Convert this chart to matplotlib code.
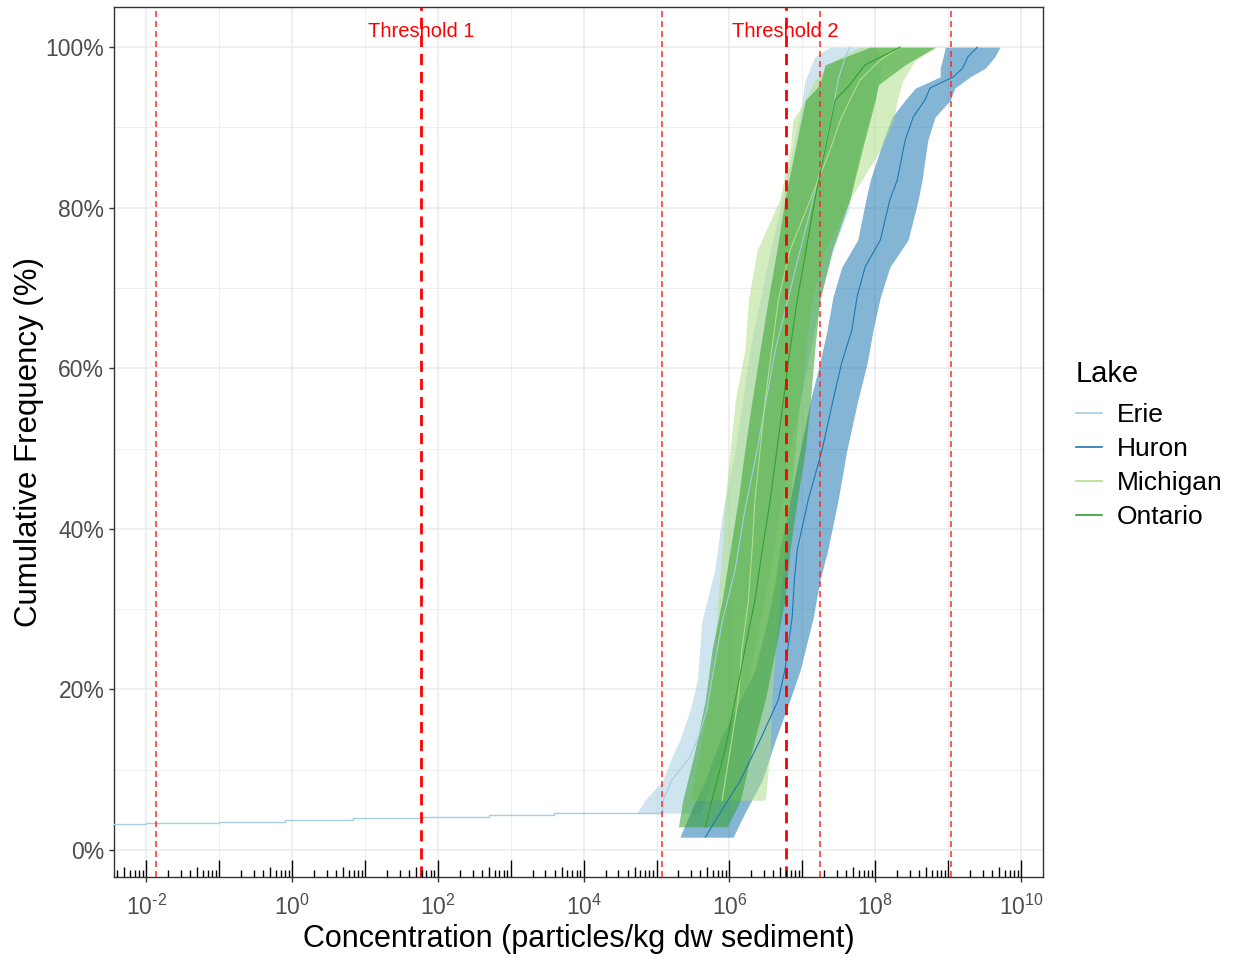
import numpy as np
import matplotlib
matplotlib.use("Agg")
import matplotlib.pyplot as plt
from matplotlib.transforms import blended_transform_factory
from matplotlib.lines import Line2D

plt.rcParams["font.family"] = ["Liberation Sans", "DejaVu Sans"]
plt.rcParams["mathtext.fontset"] = "custom"
plt.rcParams["mathtext.rm"] = "Liberation Sans"
plt.rcParams["mathtext.it"] = "Liberation Sans"
plt.rcParams["lines.scale_dashes"] = False

#####################
### Data (log10 concentration, cumulative %)
#####################
lakes = ["Erie", "Huron", "Michigan", "Ontario"]
colors = {"Erie": "#A6CEE3", "Huron": "#1F78B4", "Michigan": "#B2DF8A", "Ontario": "#33A02C"}

erie_pct = [4.6, 6.2, 8.7, 11.6, 13.7, 17.4, 21.2, 28.4, 35.0, 42.3, 49.8, 62.3, 68.5, 74.7, 79.7, 85.6, 91.8, 95.9, 98.8, 100]
erie_lo = [4.73, 4.84, 5.09, 5.21, 5.32, 5.46, 5.56, 5.62, 5.80, 5.91, 6.08, 6.28, 6.42, 6.56, 6.69, 6.83, 6.97, 7.04, 7.17, 7.38]
erie_mid = [5.08, 5.09, 5.21, 5.46, 5.56, 5.69, 5.76, 5.90, 6.08, 6.21, 6.38, 6.63, 6.80, 6.97, 7.11, 7.27, 7.41, 7.49, 7.59, 7.65]
erie_hi = [5.60, 5.67, 5.76, 5.90, 6.01, 6.15, 6.26, 6.42, 6.56, 6.69, 6.83, 7.11, 7.24, 7.42, 7.63, 7.75, 7.93, 8.07, 8.07, 8.00]
# low tail of Erie (single very low sample)
erie_tail_x = [-2.6, -2.0, -1.0, -0.1, 0.84, 1.8, 2.7, 3.6, 5.08]
erie_tail_pct = [3.2, 3.4, 3.55, 3.75, 3.95, 4.15, 4.35, 4.6, 4.6]

huron_pct = [1.6, 4.6, 8.7, 13.7, 18.7, 22.4, 29.0, 33.6, 37.4, 43.6, 49.8, 56.0, 60.7, 64.8, 68.9, 72.6, 76.0, 81.0, 83.4, 88.4, 91.3, 93.4, 94.9, 96.3, 97.4, 98.8, 100]
huron_lo = [5.32, 5.46, 5.67, 5.87, 6.15, 6.35, 6.53, 6.63, 6.69, 6.83, 6.97, 7.11, 7.24, 7.34, 7.42, 7.54, 7.76, 7.87, 7.93, 8.11, 8.23, 8.41, 8.55, 8.89, 8.89, 8.93, 8.96]
huron_mid = [5.67, 5.87, 6.15, 6.42, 6.67, 6.76, 6.86, 6.89, 6.93, 7.08, 7.27, 7.42, 7.54, 7.68, 7.75, 7.86, 8.07, 8.20, 8.30, 8.41, 8.52, 8.68, 8.75, 9.07, 9.20, 9.27, 9.40]
huron_hi = [6.05, 6.21, 6.45, 6.63, 6.83, 6.97, 7.15, 7.24, 7.35, 7.49, 7.61, 7.76, 7.89, 7.97, 8.07, 8.20, 8.45, 8.59, 8.64, 8.72, 8.82, 9.03, 9.09, 9.30, 9.51, 9.64, 9.71]

michigan_pct = [6.2, 12.5, 18.7, 24.9, 31.1, 37.4, 43.6, 49.8, 56.0, 62.3, 68.5, 74.7, 81.0, 87.2, 90.9, 93.4, 95.9, 98.4, 100]
michigan_lo = [5.46, 5.60, 5.71, 5.80, 5.84, 5.90, 5.94, 6.01, 6.08, 6.21, 6.26, 6.38, 6.69, 6.83, 6.87, 7.04, 7.17, 7.45, 7.79]
michigan_mid = [5.90, 6.01, 6.12, 6.17, 6.26, 6.31, 6.35, 6.42, 6.49, 6.58, 6.67, 6.83, 7.11, 7.38, 7.52, 7.65, 7.79, 8.07, 8.34]
michigan_hi = [6.49, 6.56, 6.58, 6.63, 6.69, 6.76, 6.83, 6.90, 6.97, 7.04, 7.13, 7.31, 7.65, 8.07, 8.25, 8.30, 8.38, 8.55, 8.85]

ontario_pct = [2.9, 6.2, 12.5, 18.7, 24.9, 31.1, 37.4, 43.6, 49.8, 56.0, 62.3, 68.5, 74.7, 81.0, 87.2, 93.4, 95.3, 97.8, 100]
ontario_lo = [5.30, 5.36, 5.53, 5.67, 5.76, 5.90, 6.01, 6.12, 6.21, 6.31, 6.42, 6.53, 6.65, 6.76, 6.90, 7.04, 7.24, 7.31, 7.93]
ontario_mid = [5.67, 5.76, 5.94, 6.08, 6.21, 6.35, 6.45, 6.56, 6.65, 6.74, 6.83, 6.93, 7.05, 7.17, 7.31, 7.45, 7.65, 7.86, 8.34]
ontario_hi = [5.97, 6.15, 6.31, 6.49, 6.63, 6.76, 6.83, 6.93, 7.04, 7.11, 7.17, 7.24, 7.41, 7.65, 7.82, 8.00, 8.04, 8.41, 8.82]

threshold_main = [59, 5.9e6]
threshold_main_labels = ["Threshold 1", "Threshold 2"]
threshold_bounds = [0.0135, 1.2e5, 1.75e7, 1.1e9]

series = {
    "Erie": (erie_pct, erie_lo, erie_mid, erie_hi),
    "Huron": (huron_pct, huron_lo, huron_mid, huron_hi),
    "Michigan": (michigan_pct, michigan_lo, michigan_mid, michigan_hi),
    "Ontario": (ontario_pct, ontario_lo, ontario_mid, ontario_hi),
}

#####################
### Plot
#####################
fig = plt.figure(figsize=(12.38, 9.57), dpi=100)
ax = fig.add_axes([114/1238, 1-877/957, (1043-114)/1238, (877-7)/957])

ax.set_xscale("log")
ax.set_xlim(10**-2.44, 10**10.30)
ax.set_ylim(-3.36, 105.0)

# grid
for e in range(-2, 11):
    ax.axvline(10.0**e, color="#EBEBEB", lw=1.1 if e % 2 == 0 else 0.6, zorder=0)
for p in range(0, 101, 10):
    ax.axhline(p, color="#EBEBEB", lw=1.1 if p % 20 == 0 else 0.6, zorder=0)

for lake in lakes:
    pct, lo, mid, hi = series[lake]
    pct = np.array(pct)
    ax.fill_betweenx(pct, 10**np.array(lo), 10**np.array(hi), color=colors[lake],
                     alpha=0.55, lw=0, zorder=2)
    ax.plot(10**np.array(mid), pct, color=colors[lake], lw=0.8, zorder=3)
ax.plot(10**np.array(erie_tail_x), erie_tail_pct, color=colors["Erie"], lw=1.0,
        drawstyle="steps-post", zorder=3)

# threshold lines
for v in threshold_bounds:
    ax.axvline(v, color="#FF2A2A", lw=1.1, dashes=(4.3, 2.9), zorder=4)
for v, lab in zip(threshold_main, threshold_main_labels):
    ax.axvline(v, color="red", lw=2.0, dashes=(8, 5), zorder=4)
    ax.text(v, 102.0, lab, color="red", fontsize=14.5, ha="center", va="center", zorder=5)

# log ticks along the bottom inside the panel
trans = blended_transform_factory(ax.transData, ax.transAxes)
for e in range(-3, 11):
    for m in range(1, 10):
        v = m * 10.0**e
        if v < 10**-2.44 or v > 10**10.3:
            continue
        h = 16.7 if m == 1 else (10.3 if m == 5 else 6.7)
        ax.plot([v, v], [0, h/870], color="black", lw=1.0, transform=trans, zorder=6,
                solid_capstyle="butt")

# axes styling
xt = list(range(-2, 11, 2))
ax.set_xticks([10.0**e for e in xt])
ax.set_xticklabels(["$10^{" + str(e).replace("-", "\u2010") + "}$" for e in xt])
ax.minorticks_off()
ax.set_yticks(range(0, 101, 20))
ax.set_yticklabels(["%d%%" % p for p in range(0, 101, 20)])
ax.tick_params(axis="both", labelsize=16.5, labelcolor="#4D4D4D", color="#333333",
               length=3.5, width=1.0)
ax.tick_params(axis="x", pad=9)
for s in ax.spines.values():
    s.set_color("#333333")
    s.set_linewidth(1.0)
ax.set_xlabel("Concentration (particles/kg dw sediment)", fontsize=22, labelpad=3)
ax.set_ylabel("Cumulative Frequency (%)", fontsize=22.5, labelpad=1)

handles = [Line2D([0], [0], color=colors[l], lw=1.2) for l in lakes]
leg = fig.legend(handles, lakes, title="Lake", loc="upper left",
                 bbox_to_anchor=(1076/1238, 1-360/957), frameon=False, borderpad=0,
                 borderaxespad=0, fontsize=19, title_fontsize=21, handlelength=1.0,
                 handletextpad=0.55, labelspacing=0.38)
leg._legend_box.align = "left"
leg._legend_box.sep = 11

plt.savefig("out.png", dpi=100)
